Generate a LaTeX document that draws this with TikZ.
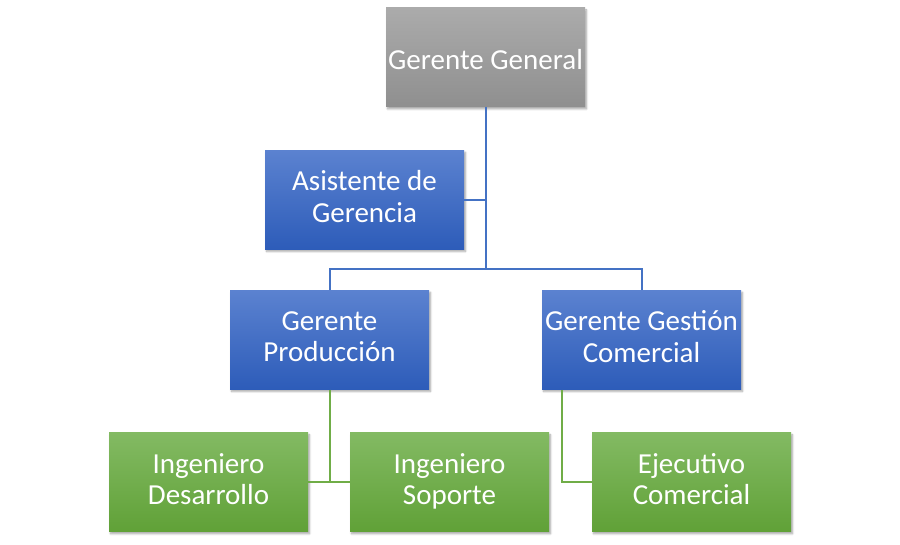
\documentclass[tikz,border=0pt]{standalone}
\usepackage{fontspec}
\setmainfont{Carlito}
\usepackage{tikz}
\usetikzlibrary{positioning,shadows,shadows.blur}
\definecolor{linkblue}{HTML}{4472C4}
\definecolor{linkgreen}{HTML}{70AD47}
\definecolor{grayhi}{HTML}{ABABAB}
\definecolor{graylo}{HTML}{8F8F8F}
\definecolor{bluehi}{HTML}{5B82D0}
\definecolor{bluelo}{HTML}{2D5CB9}
\definecolor{greenhi}{HTML}{83BA63}
\definecolor{greenlo}{HTML}{60A137}
\tikzset{
  basic/.style   = {rectangle, minimum width=199pt, minimum height=99pt,
                    inner sep=2pt, align=center, text=white,
                    font=\fontsize{29}{31.5}\selectfont,
                    execute at begin node=\rule{0pt}{30pt},
                    execute at end node=\rule[-6.5pt]{0pt}{6.5pt},
                    blur shadow={shadow xshift=1.5pt, shadow yshift=-2pt,
                                 shadow blur steps=6, shadow opacity=35}},
  root/.style    = {basic, top color=grayhi, bottom color=graylo},
  level 2/.style = {basic, top color=bluehi, bottom color=bluelo},
  level 3/.style = {basic, top color=greenhi, bottom color=greenlo}
}

\begin{document}
\begin{tikzpicture}
\useasboundingbox (0,0) rectangle (900pt,-545pt);

% root of the chart
\node[root] at (485.5pt,-57.5pt) (r) {Gerente General};

% the assistant and the two managers
\node[level 2, below=43pt of r, xshift=-121pt] (c0) {Asistente de\\Gerencia};
\node[level 2, below=183pt of r, xshift=-156pt] (c1) {Gerente\\Producción};
\node[level 2, below=183pt of r, xshift=156pt] (c2) {Gerente Gestión\\Comercial};

% the third level, relatively positioned nodes
\node[level 3, below=43pt of c1, xshift=-121pt] (c11) {Ingeniero\\Desarrollo};
\node[level 3, below=43pt of c1, xshift=120pt] (c12) {Ingeniero\\Soporte};
\node[level 3, below=43pt of c2, xshift=50pt] (c21) {Ejecutivo\\Comercial};

% blue lines from the root
\coordinate[above=21pt of c1.north] (split);
\begin{scope}[draw=linkblue, line width=2pt]
\draw (r.south) -- (r.south |- split);
\draw (r.south) |- (c0.east);
\draw (c1.north) -- (split) -| (c2.north);
\end{scope}

% green lines to the third level
\begin{scope}[draw=linkgreen, line width=2pt]
\draw (c1.south) |- (c11.east);
\draw (c1.south) |- (c12.west);
\draw (c2.south west) ++(20pt,0) |- (c21.west);
\end{scope}
\end{tikzpicture}
\end{document}
